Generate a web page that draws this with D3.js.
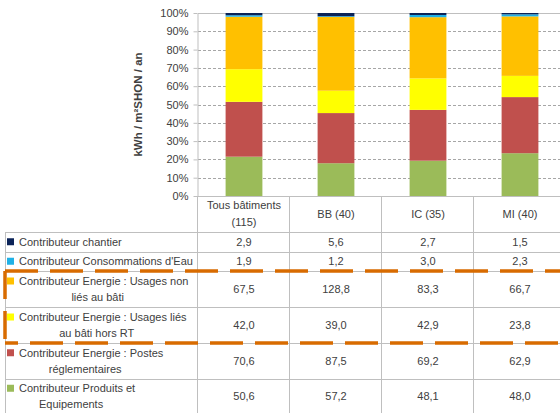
<!DOCTYPE html>
<html>
<head>
<meta charset="utf-8">
<script src="https://cdn.jsdelivr.net/npm/d3@7"></script>
<style>
  body { margin: 0; background: #fff; }
  svg { font-family: "Liberation Sans", Arial, sans-serif; }
</style>
</head>
<body>
<div id="viz"></div>
<script>
// ====================
// DATA
// ====================
const categories = ['Tous bâtiments (115)', 'BB (40)', 'IC (35)', 'MI (40)'];
const headerLines = [['Tous bâtiments', '(115)'], ['BB (40)'], ['IC (35)'], ['MI (40)']];

// rows of the table, top to bottom
const seriesNames = [
  'Contributeur chantier',
  "Contributeur Consommations d'Eau",
  'Contributeur Energie : Usages non liés au bâti',
  'Contributeur Energie : Usages liés au bâti hors RT',
  'Contributeur Energie : Postes réglementaires',
  'Contributeur Produits et Equipements'
];
const seriesLabelLines = [
  ['Contributeur chantier'],
  ["Contributeur Consommations d'Eau"],
  ['Contributeur Energie : Usages non', 'liés au bâti'],
  ['Contributeur Energie : Usages liés', 'au bâti hors RT'],
  ['Contributeur Energie : Postes', 'réglementaires'],
  ['Contributeur Produits et', 'Equipements']
];
const seriesColors = ['#0b2358', '#1fb1e6', '#ffc000', '#ffff00', '#c0504d', '#9bbb59'];

const chantier = [2.9, 5.6, 2.7, 1.5];
const eau = [1.9, 1.2, 3.0, 2.3];
const nonLies = [67.5, 128.8, 83.3, 66.7];
const liesHorsRT = [42.0, 39.0, 42.9, 23.8];
const postes = [70.6, 87.5, 69.2, 62.9];
const produits = [50.6, 57.2, 48.1, 48.0];
const seriesValues = [chantier, eau, nonLies, liesHorsRT, postes, produits];

const yTicks = [0, 0.1, 0.2, 0.3, 0.4, 0.5, 0.6, 0.7, 0.8, 0.9, 1];

// ====================
// SETUP
// ====================
const width = 560, height = 413;
const plotTop = 13, plotBottom = 196;
const tableLeft = 5, colLeft = 198, colRight = 566;
const rowEdges = [196, 232, 251.5, 271, 307, 343, 378.5, 414];

const fmt = v => d3.format('.1f')(v).replace('.', ',');

const svg = d3.select('#viz').append('svg')
  .attr('width', width).attr('height', height);

const x = d3.scaleBand().domain(categories).range([colLeft, colRight]).padding(0);
const y = d3.scaleLinear().domain([0, 1]).range([plotBottom, plotTop]);
const barW = x.bandwidth() * 0.4;

// stack data, bottom series first
const table = categories.map((c, i) => {
  const row = { cat: c };
  seriesNames.forEach((s, j) => { row[s] = seriesValues[j][i]; });
  return row;
});
const stack = d3.stack()
  .keys(seriesNames.slice().reverse())
  .offset(d3.stackOffsetExpand);
const layers = stack(table);

// gridlines
svg.append('g')
  .selectAll('line')
  .data(yTicks.slice(1, -1))
  .join('line')
  .attr('x1', colLeft).attr('x2', width)
  .attr('y1', d => Math.round(y(d)) + 0.5).attr('y2', d => Math.round(y(d)) + 0.5)
  .attr('stroke', '#a6a6a6')
  .attr('stroke-dasharray', '3,2');

// top line (100%)
svg.append('line')
  .attr('x1', colLeft).attr('x2', width)
  .attr('y1', Math.round(y(1)) + 0.5).attr('y2', Math.round(y(1)) + 0.5)
  .attr('stroke', '#bfbfbf');

// bars
svg.append('g')
  .selectAll('g')
  .data(layers)
  .join('g')
  .attr('fill', d => seriesColors[seriesNames.indexOf(d.key)])
  .selectAll('rect')
  .data(d => d)
  .join('rect')
  .attr('x', d => x(d.data.cat) + (x.bandwidth() - barW) / 2)
  .attr('width', barW)
  .attr('y', d => y(d[1]))
  .attr('height', d => y(d[0]) - y(d[1]));

// y axis
const yAxis = svg.append('g')
  .attr('transform', `translate(${colLeft - 0.5},0)`)
  .call(d3.axisLeft(y).tickValues(yTicks).tickFormat(d3.format('.0%')).tickSize(4).tickSizeOuter(0));
yAxis.select('.domain').attr('stroke', '#bfbfbf');
yAxis.selectAll('.tick line').attr('stroke', '#bfbfbf');
yAxis.selectAll('.tick text')
  .attr('x', -9)
  .attr('fill', '#404040')
  .style('font-size', '11px');

// y label
svg.append('text')
  .attr('transform', `translate(142,${(plotTop + plotBottom) / 2}) rotate(-90)`)
  .attr('text-anchor', 'middle')
  .attr('fill', '#404040')
  .style('font-size', '11.5px')
  .style('font-weight', 'bold')
  .text('kWh / m²SHON / an');

// ====================
// TABLE
// ====================
const grid = svg.append('g').attr('stroke', '#bfbfbf').attr('stroke-width', 1);

// horizontal lines
grid.selectAll('line.h')
  .data(rowEdges.slice(0, -1))
  .join('line')
  .attr('class', 'h')
  .attr('x1', (d, i) => i === 0 ? colLeft : tableLeft)
  .attr('x2', width)
  .attr('y1', d => Math.round(d) + 0.5).attr('y2', d => Math.round(d) + 0.5);

// vertical lines
const colEdges = categories.map(c => x(c)).concat([colRight]);
grid.selectAll('line.v')
  .data(colEdges)
  .join('line')
  .attr('class', 'v')
  .attr('x1', d => Math.round(d) - 0.5).attr('x2', d => Math.round(d) - 0.5)
  .attr('y1', plotBottom).attr('y2', height);
grid.append('line')
  .attr('x1', tableLeft + 0.5).attr('x2', tableLeft + 0.5)
  .attr('y1', rowEdges[1]).attr('y2', height);

// header labels
const header = svg.append('g')
  .style('font-size', '11px')
  .attr('fill', '#404040')
  .attr('text-anchor', 'middle');
categories.forEach((c, i) => {
  const lines = headerLines[i];
  const mid = (rowEdges[0] + rowEdges[1]) / 2;
  lines.forEach((t, k) => {
    header.append('text')
      .attr('x', x(c) + x.bandwidth() / 2)
      .attr('y', mid + (k - (lines.length - 1) / 2) * 17)
      .attr('dy', '0.35em')
      .text(t);
  });
});

// row labels with legend markers
const labels = svg.append('g').style('font-size', '11px').attr('fill', '#404040');
seriesNames.forEach((s, j) => {
  const lines = seriesLabelLines[j];
  const mid = (rowEdges[j + 1] + rowEdges[j + 2]) / 2;
  const texts = lines.map((t, k) => labels.append('text')
    .attr('y', mid + (k - (lines.length - 1) / 2) * 16)
    .attr('dy', '0.35em')
    .text(t));
  const marker = 12;
  const widths = texts.map((t, k) => t.node().getComputedTextLength() + (k === 0 ? marker : 0));
  const blockW = d3.max(widths);
  const cx = 7 + blockW / 2;
  texts.forEach((t, k) => {
    const left = cx - widths[k] / 2;
    t.attr('x', left + (k === 0 ? marker : 0));
    if (k === 0) {
      labels.append('rect')
        .attr('x', left).attr('y', mid + (k - (lines.length - 1) / 2) * 16 - 3.5)
        .attr('width', 7).attr('height', 7)
        .attr('fill', seriesColors[j]);
    }
  });

  // values
  categories.forEach((c, i) => {
    labels.append('text')
      .attr('x', x(c) + x.bandwidth() / 2)
      .attr('y', mid)
      .attr('dy', '0.35em')
      .attr('text-anchor', 'middle')
      .text(fmt(seriesValues[j][i]));
  });
});

// orange dashed frame around energy rows
const frame = svg.append('g')
  .attr('stroke', '#d86b00')
  .attr('stroke-width', 3.5)
  .attr('fill', 'none');
frame.append('line')
  .attr('x1', tableLeft).attr('x2', width)
  .attr('y1', rowEdges[3]).attr('y2', rowEdges[3])
  .attr('stroke-dasharray', '33,12');
frame.append('line')
  .attr('x1', tableLeft).attr('x2', width)
  .attr('y1', rowEdges[5]).attr('y2', rowEdges[5])
  .attr('stroke-dasharray', '33,12')
  .attr('stroke-dashoffset', 20);
frame.append('line')
  .attr('x1', tableLeft).attr('x2', tableLeft)
  .attr('y1', rowEdges[3]).attr('y2', rowEdges[5])
  .attr('stroke-dasharray', '28,12');
</script>
</body>
</html>
